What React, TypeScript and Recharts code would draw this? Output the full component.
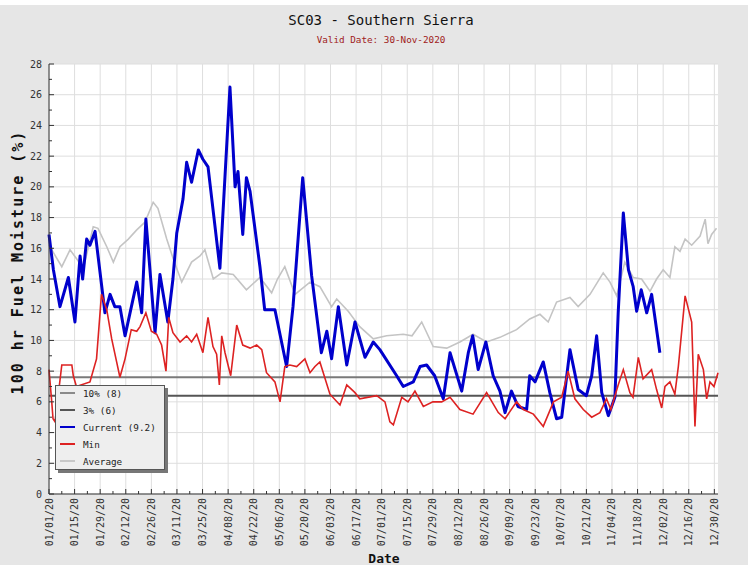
import React from "react";
import { LineChart, Line, XAxis, YAxis, CartesianGrid } from "recharts";

type Pt = [number, number];

// [day of year (0 = 01/01/20), fuel moisture %]
const current: Pt[] = [
  [0, 16.9], [2.4, 14.6], [6, 12.2], [10.6, 14.1], [14.2, 11.2], [17, 15.5], [18.4, 14.0],
  [20.6, 16.6], [22.4, 16.2], [25.2, 17.1], [30.6, 11.8], [33.4, 13.0], [36, 12.2], [38.8, 12.2],
  [41.6, 10.3], [48, 13.8], [50.7, 11.8], [53, 17.9], [58, 10.5], [60.7, 14.3], [65, 11.2],
  [67.8, 14.0], [69.9, 17.0], [73.3, 19.2], [75.3, 21.6], [78, 20.3], [81.7, 22.4], [84.2, 21.8],
  [87, 21.3], [93.5, 14.7], [99, 26.5], [101.8, 20.0], [103.4, 21.0], [106, 16.9], [108, 20.6],
  [110, 19.7], [115.4, 14.8], [118, 12.0], [123.6, 12.0], [130, 8.3], [133.5, 12.2], [138.8, 20.6],
  [143.7, 14.2], [149, 9.2], [152, 10.6], [154.6, 8.8], [158.3, 12.2], [162.9, 8.4], [167.4, 11.2],
  [172.9, 8.9], [177.4, 9.9], [181, 9.4], [190.2, 7.7], [193.8, 7.0], [199.3, 7.3], [203, 8.3],
  [206.6, 8.4], [211, 7.7], [215.7, 6.2], [219.4, 9.2], [225.8, 6.7], [229.4, 9.2], [231.8, 10.3],
  [234.8, 8.1], [239, 9.9], [243, 7.7], [246.7, 6.7], [249.5, 5.3], [253, 6.7], [256.6, 5.7],
  [261.3, 5.5], [263, 7.7], [265.9, 7.3], [270.4, 8.6], [274, 6.6], [277.7, 4.9], [280.5, 5.0],
  [285, 9.4], [289.5, 6.8], [294, 6.4], [296.9, 7.7], [299.6, 10.3], [302.4, 6.6], [306, 5.1],
  [309.6, 6.3], [311.4, 11.8], [314.2, 18.3], [317, 14.6], [319.6, 13.5], [321.5, 11.9], [324, 13.3],
  [327, 11.8], [329.7, 13.0], [334.2, 9.2],
];

const minimum: Pt[] = [
  [0, 8.1], [1.5, 6.0], [2.2, 4.9], [3.3, 4.7], [7, 8.4], [12.5, 8.4], [13.3, 7.7], [15, 7.0],
  [22.4, 7.3], [26, 8.8], [28.7, 13.0], [31.6, 12.0], [34.3, 10.1], [37, 8.6], [38.8, 7.6],
  [41.6, 8.8], [45, 10.7], [48, 10.6], [49.8, 10.9], [53, 11.8], [56, 10.6], [58.9, 10.4],
  [61.6, 9.7], [64, 8.0], [65.5, 11.5], [67.8, 10.5], [71.7, 9.9], [75.3, 10.3], [78, 9.9],
  [80.8, 10.4], [84.2, 9.2], [87, 11.5], [89.7, 9.6], [91.7, 9.1], [93.2, 7.1], [94.5, 10.3],
  [96.3, 9.2], [99.4, 7.7], [102.7, 11.0], [106, 9.7], [110, 9.5], [113.6, 9.7], [116.4, 9.4],
  [119, 7.9], [123.6, 7.3], [126.4, 6.0], [129, 8.3], [131.8, 8.4], [135.5, 8.3], [140, 8.8],
  [142.8, 7.9], [145.5, 8.3], [148.2, 8.6], [153.7, 6.5], [159.2, 5.8], [162.9, 7.1], [167.4, 6.6],
  [170, 6.2], [179.3, 6.4], [183.8, 6.0], [186.5, 4.7], [188.4, 4.5], [193, 6.3], [196.4, 6.0],
  [200.2, 6.7], [204.8, 5.7], [210, 6.0], [214.8, 6.0], [219.4, 6.3], [224.8, 5.5], [232, 5.2],
  [239.4, 6.6], [245.8, 5.3], [249.5, 4.9], [255.8, 6.0], [259.5, 5.5], [265, 5.2], [270.4, 4.4],
  [276, 6.0], [280.5, 6.3], [284, 8.0], [287.7, 6.2], [292.3, 5.5], [296.9, 5.0], [301.4, 5.3],
  [305, 6.2], [307.4, 5.5], [311.4, 7.1], [314.2, 8.1], [317.8, 6.6], [319.5, 6.3], [322.4, 8.9],
  [325, 7.5], [329.7, 8.1], [332.4, 6.8], [335.2, 5.6], [337, 7.0], [339.7, 7.3], [342.4, 6.5],
  [344.3, 8.3], [348, 12.9], [351.6, 11.2], [353.4, 4.4], [355.2, 9.1], [358, 8.1], [359.8, 6.2],
  [361.6, 7.3], [363.8, 7.0], [366, 7.9],
];

const average: Pt[] = [
  [0, 16.2], [7, 14.8], [11.5, 15.9], [15.2, 15.3], [18.8, 14.7], [24.2, 17.4], [26.8, 17.3],
  [31.6, 16.1], [35.2, 15.1], [38.8, 16.1], [43.4, 16.6], [48, 17.2], [52.5, 17.7], [57, 19.0],
  [59.6, 18.6], [64.4, 16.6], [68, 15.3], [72.6, 13.8], [78, 15.1], [82.6, 15.5], [85.3, 15.9],
  [89.9, 14.0], [94.5, 14.4], [100.8, 14.3], [108, 13.3], [115.4, 14.1], [121.8, 13.1], [125, 14.0],
  [129, 14.8], [134.6, 13.0], [142.8, 13.8], [148.2, 13.5], [154.6, 12.2], [157.4, 12.7],
  [163.7, 11.9], [170, 10.9], [177.4, 10.1], [184.7, 10.3], [193.8, 10.4], [198.6, 10.3],
  [203.9, 11.2], [210.2, 9.6], [217.6, 9.5], [224.8, 9.9], [232, 10.4], [239.4, 9.9], [246.7, 10.2],
  [255.8, 10.7], [263, 11.4], [268.6, 11.7], [273.1, 11.2], [277.7, 12.5], [285, 12.8], [289.5, 12.2],
  [296, 13.0], [303.2, 14.4], [306.9, 13.8], [310.6, 12.9], [315, 15.1], [319.6, 14.1], [324.2, 14.0],
  [328.8, 13.2], [332.4, 14.0], [336, 14.6], [339.7, 14.1], [342.4, 16.1], [345.2, 15.8], [348, 16.6],
  [351.6, 16.2], [356.2, 16.8], [359, 17.9], [360.5, 16.3], [362.5, 16.9], [365.2, 17.3],
];

const pct10 = 7.6;
const pct3 = 6.4;

const xTickLabels = [
  "01/01/20", "01/15/20", "01/29/20", "02/12/20", "02/26/20", "03/11/20", "03/25/20",
  "04/08/20", "04/22/20", "05/06/20", "05/20/20", "06/03/20", "06/17/20", "07/01/20",
  "07/15/20", "07/29/20", "08/12/20", "08/26/20", "09/09/20", "09/23/20", "10/07/20",
  "10/21/20", "11/04/20", "11/18/20", "12/02/20", "12/16/20", "12/30/20",
];

const legendItems = [
  { name: "10% (8)", color: "#8a8a8a" },
  { name: "3% (6)", color: "#555555" },
  { name: "Current (9.2)", color: "#0000cc" },
  { name: "Min", color: "#dd2222" },
  { name: "Average", color: "#c8c8c8" },
];

const MONO = "'DejaVu Sans Mono', monospace";
const toPts = (a: Pt[]) => a.map(([d, v]) => ({ d, v }));

const xTicks = Array.from({ length: 53 }, (_, i) => i * 7);
const xMajor = xTicks.filter((t) => t % 14 === 0);
const yTicks = Array.from({ length: 29 }, (_, i) => i);
const yMajor = yTicks.filter((t) => t % 2 === 0);

const YTick = (props: any) => {
  const { x, y, payload } = props;
  const major = payload.value % 2 === 0;
  const ax = x + 7;
  return (
    <g>
      <line x1={ax} x2={ax + (major ? 5 : 3)} y1={y} y2={y} stroke="#333" />
      {major && (
        <text x={x} y={y} dy={3.5} textAnchor="end" fontSize={10} fill="#333" fontFamily={MONO}>
          {payload.value}
        </text>
      )}
    </g>
  );
};

const XTick = (props: any) => {
  const { x, y, payload } = props;
  const major = payload.value % 14 === 0;
  const ay = y - 4;
  return (
    <g>
      <line x1={x} x2={x} y1={ay} y2={ay - (major ? 5 : 3)} stroke="#333" />
      {major && (
        <text
          transform={`translate(${x},${y}) rotate(-90)`}
          textAnchor="end"
          dy={3.5}
          fontSize={10}
          fill="#333"
          fontFamily={MONO}
        >
          {xTickLabels[payload.value / 14]}
        </text>
      )}
    </g>
  );
};

export default function App() {
  return (
    <div
      style={{
        position: "absolute", left: 0, top: 0, width: 748, height: 565,
        background: "#e6e6e6", borderTop: "5px solid #fff", boxSizing: "border-box",
      }}
    >
      <div style={{ position: "absolute", left: 0, top: -5 }}>
        <LineChart width={748} height={565} margin={{ top: 64, right: 30, left: 0, bottom: 0 }}>
          <CartesianGrid
            fill="#fff"
            stroke="#dedede"
            horizontalValues={yMajor}
            verticalValues={xMajor}
          />
          <XAxis
            type="number"
            dataKey="d"
            domain={[0, 366]}
            ticks={xTicks}
            interval={0}
            height={71}
            tickSize={0}
            tickMargin={4}
            tick={<XTick />}
            stroke="#333"
          />
          <YAxis
            type="number"
            domain={[0, 28]}
            ticks={yTicks}
            interval={0}
            width={49}
            tickSize={0}
            tickMargin={7}
            tick={<YTick />}
            stroke="#333"
          />
          <Line data={[{ d: 0, v: pct10 }, { d: 366, v: pct10 }]} dataKey="v" stroke="#7a7a7a" strokeWidth={2} dot={false} isAnimationActive={false} />
          <Line data={[{ d: 0, v: pct3 }, { d: 366, v: pct3 }]} dataKey="v" stroke="#555" strokeWidth={2} dot={false} isAnimationActive={false} />
          <Line data={toPts(average)} dataKey="v" stroke="#c4c4c4" strokeWidth={1.6} dot={false} isAnimationActive={false} />
          <Line data={toPts(current)} dataKey="v" stroke="#0000cc" strokeWidth={3} strokeLinejoin="round" dot={false} isAnimationActive={false} />
          <Line data={toPts(minimum)} dataKey="v" stroke="#dd2222" strokeWidth={1.6} dot={false} isAnimationActive={false} />
        </LineChart>
      </div>

      <svg width={748} height={565} style={{ position: "absolute", left: 0, top: -5, pointerEvents: "none" }}>
        <text x={381} y={25} textAnchor="middle" fontSize={14} fill="#111" fontFamily={MONO}>
          SC03 - Southern Sierra
        </text>
        <text x={381} y={43} textAnchor="middle" fontSize={9.3} fill="#a02020" fontFamily={MONO}>
          Valid Date: 30-Nov-2020
        </text>
        <text
          transform="translate(23,262) rotate(-90)"
          textAnchor="middle"
          fontSize={15}
          fontWeight="bold"
          letterSpacing={2}
          fill="#111"
          fontFamily={MONO}
        >
          100 hr Fuel Moisture (%)
        </text>
        <text x={384} y={563} textAnchor="middle" fontSize={13} fontWeight="bold" fill="#111" fontFamily={MONO}>
          Date
        </text>
      </svg>

      {/* Legend */}
      <div
        style={{
          position: "absolute", left: 55, top: 380, width: 110, height: 85,
          background: "#eeeeee", border: "1px solid #555", boxShadow: "3px 3px 0 #777",
          boxSizing: "border-box", fontFamily: MONO, fontSize: 9.3, color: "#222",
        }}
      >
        {legendItems.map((item, i) => (
          <div
            key={item.name}
            style={{ position: "absolute", left: 4, top: -1 + i * 17, height: 16, display: "flex", alignItems: "center" }}
          >
            <div style={{ width: 15, height: 2, background: item.color, marginRight: 8 }} />
            <span>{item.name}</span>
          </div>
        ))}
      </div>
    </div>
  );
}
